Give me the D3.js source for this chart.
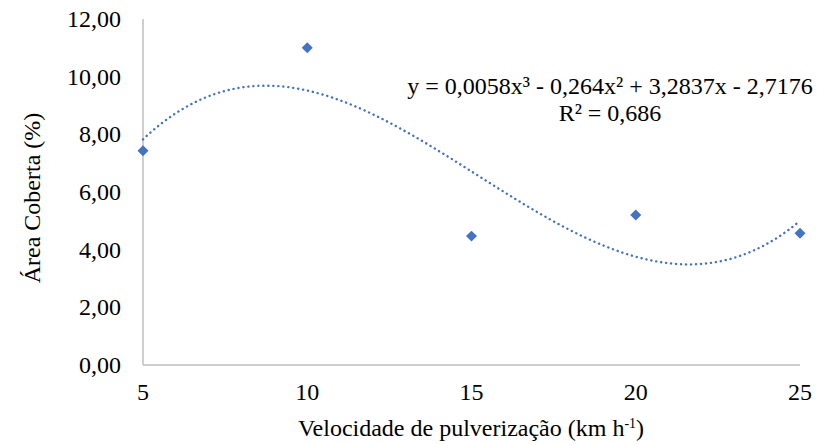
<!DOCTYPE html>
<html>
<head>
  <meta charset="utf-8">
  <script src="https://d3js.org/d3.v7.min.js"></script>
</head>
<body style="margin:0">
<svg id="chart" width="829" height="445"></svg>
<script>
  // data
  const speeds = [5, 10, 15, 20, 25]
  const coverage = [7.43, 11.0, 4.47, 5.2, 4.57]
  const xTicks = [5, 10, 15, 20, 25]
  const yTicks = [0, 2, 4, 6, 8, 10, 12]
  // trendline coefficients (x^3, x^2, x, const), as printed on the chart
  const coefs = [0.0058, -0.264, 3.2837, -2.7176]

  const svg = d3.select("#chart")
  const x = d3.scaleLinear().domain([5, 25]).range([143, 800])
  const y = d3.scaleLinear().domain([0, 12]).range([365, 19])
  const fmt = d => d3.format(".2f")(d).replace(".", ",")

  // every label: Times-like serif
  const label = (sel) => sel
    .attr("font-family", "Liberation Serif, Tinos, Times New Roman, serif")
    .attr("font-size", 24)
    .attr("fill", "#000")

  // axis lines
  svg.append("line")
    .attr("x1", x(5)).attr("x2", x(5))
    .attr("y1", y(12)).attr("y2", y(0))
    .attr("stroke", "#bfbfbf").attr("stroke-width", 1.5)
  svg.append("line")
    .attr("x1", x(5)).attr("x2", x(25))
    .attr("y1", y(0)).attr("y2", y(0))
    .attr("stroke", "#bfbfbf").attr("stroke-width", 1.5)

  // tick labels
  svg.selectAll(".ytick")
    .data(yTicks)
    .enter()
    .append("text")
      .attr("x", 121)
      .attr("y", d => y(d) + 8)
      .attr("text-anchor", "end")
      .call(label)
      .text(fmt)

  svg.selectAll(".xtick")
    .data(xTicks)
    .enter()
    .append("text")
      .attr("x", d => x(d))
      .attr("y", 400)
      .attr("text-anchor", "middle")
      .call(label)
      .text(d => d)

  // axis titles
  const xt = svg.append("text")
    .attr("x", 471).attr("y", 436)
    .attr("text-anchor", "middle")
    .call(label)
  xt.append("tspan").text("Velocidade de pulverização (km h")
  xt.append("tspan").attr("dy", -8).attr("font-size", 14).text("-1")
  xt.append("tspan").attr("dy", 8).text(")")

  svg.append("text")
    .attr("transform", "translate(40,198) rotate(-90)")
    .attr("text-anchor", "middle")
    .call(label)
    .text("Área Coberta (%)")

  // trendline
  const poly = v => coefs[0] * v ** 3 + coefs[1] * v ** 2 + coefs[2] * v + coefs[3]
  const xs = d3.range(5, 25.001, 0.1)
  svg.append("path")
    .datum(xs)
    .attr("d", d3.line().x(d => x(d)).y(d => y(poly(d))).curve(d3.curveMonotoneX))
    .attr("fill", "none")
    .attr("stroke", "#4472c4")
    .attr("stroke-width", 2.4)
    .attr("stroke-linecap", "round")
    .attr("stroke-dasharray", "0.1,4.9")

  // points
  svg.selectAll(".pt")
    .data(speeds)
    .enter()
    .append("path")
      .attr("d", d3.symbol(d3.symbolSquare, 60))
      .attr("transform", (d, i) => `translate(${x(d)},${y(coverage[i])}) rotate(45)`)
      .attr("fill", "#4472c4")

  // equation
  svg.append("text")
    .attr("x", 610).attr("y", 94)
    .attr("text-anchor", "middle")
    .call(label)
    .text("y = 0,0058x³ - 0,264x² + 3,2837x - 2,7176")

  svg.append("text")
    .attr("x", 610).attr("y", 121)
    .attr("text-anchor", "middle")
    .call(label)
    .text("R² = 0,686")
</script>
</body>
</html>
